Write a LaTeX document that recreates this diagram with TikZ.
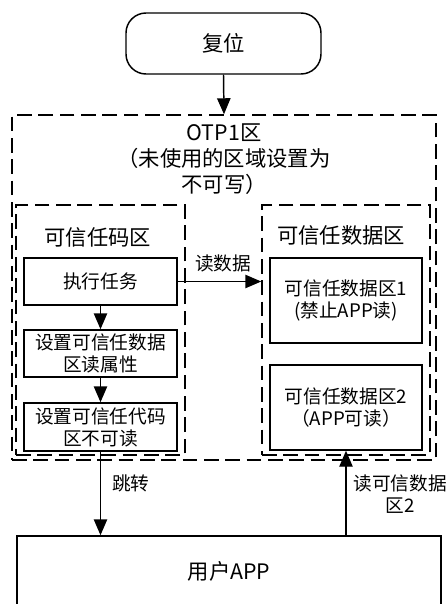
\documentclass[tikz,border=0pt]{standalone}
\usepackage{fontspec}
\setmainfont{Noto Sans CJK SC}
\usetikzlibrary{arrows.meta}
\begin{document}
\begin{tikzpicture}[x=0.75pt,y=-0.75pt,
  big/.style={font=\fontsize{16}{19.5}\selectfont},
  small/.style={font=\fontsize{14}{16.5}\selectfont},
  solidbox/.style={draw,line width=1.1pt,inner sep=0pt,align=center,small},
  dashbox/.style={draw,line width=1.1pt,inner sep=0pt,dash pattern=on 11pt off 5pt},
  arr/.style={line width=1.1pt,-{Triangle[length=12pt,width=10pt]}},
  lbl/.style={small,inner sep=0pt,align=center}]
\path[use as bounding box,fill=white] (0,0) rectangle (446,604);
% reset
\node[draw,line width=1.1pt,rounded corners=15pt,minimum width=146.25pt,minimum height=45.75pt,big] (reset) at (223.5,43.5) {复位};
% OTP area
\node[dashbox,minimum width=318pt,minimum height=258.75pt] (otp) at (224,287.5) {};
\node[align=center,inner sep=0pt,font=\fontsize{16}{19.5}\selectfont] (otplabel) at (224,159) {OTP1区\\（未使用的区域设置为\\不可写）};
% inner areas
\node[dashbox,minimum width=126.75pt,minimum height=187.5pt] (code) at (100.5,330) {};
\node[dashbox,minimum width=126pt,minimum height=187.5pt] (data) at (346,330) {};
\node[big,inner sep=0pt] (codelabel) at (98,237) {可信任码区};
\node[big,inner sep=0pt] (datalabel) at (341,235) {可信任数据区};
% code boxes
\node[solidbox,minimum width=114.75pt,minimum height=35.25pt] (a) at (100.5,281.5) {执行任务};
\node[solidbox,minimum width=114.75pt,minimum height=35.25pt] (b) at (100.5,353.5) {设置可信任数据\\区读属性};
\node[solidbox,minimum width=114.75pt,minimum height=36pt] (c) at (100.5,427) {设置可信任代码\\区不可读};
% data boxes
\node[solidbox,minimum width=114pt,minimum height=63.75pt] (d) at (346,300.5) {可信任数据区1\\(禁止APP读)};
\node[solidbox,minimum width=114pt,minimum height=63.75pt] (e) at (346,407.5) {可信任数据区2\\（APP可读）};
% user app
\node[draw,line width=1.1pt,minimum width=318pt,minimum height=52.5pt,big] (app) at (229,571) {用户APP};
% connectors
\draw[arr] (reset.south) -- (otp.north);
\draw[arr] (a) -- (b);
\draw[arr] (b) -- (c);
\draw[arr] (a.east) -- (a.east -| data.west);
\draw[arr] (c.south) -- (c.south |- app.north);
\draw[arr] (app.north -| e.south) -- (e.south);
% labels
\node[lbl] (l1) at (223,263) {读数据};
\node[lbl,anchor=west] (l2) at (112,483) {跳转};
\node[lbl] (l3) at (400,494) {读可信数据\\区2};
\end{tikzpicture}
\end{document}
